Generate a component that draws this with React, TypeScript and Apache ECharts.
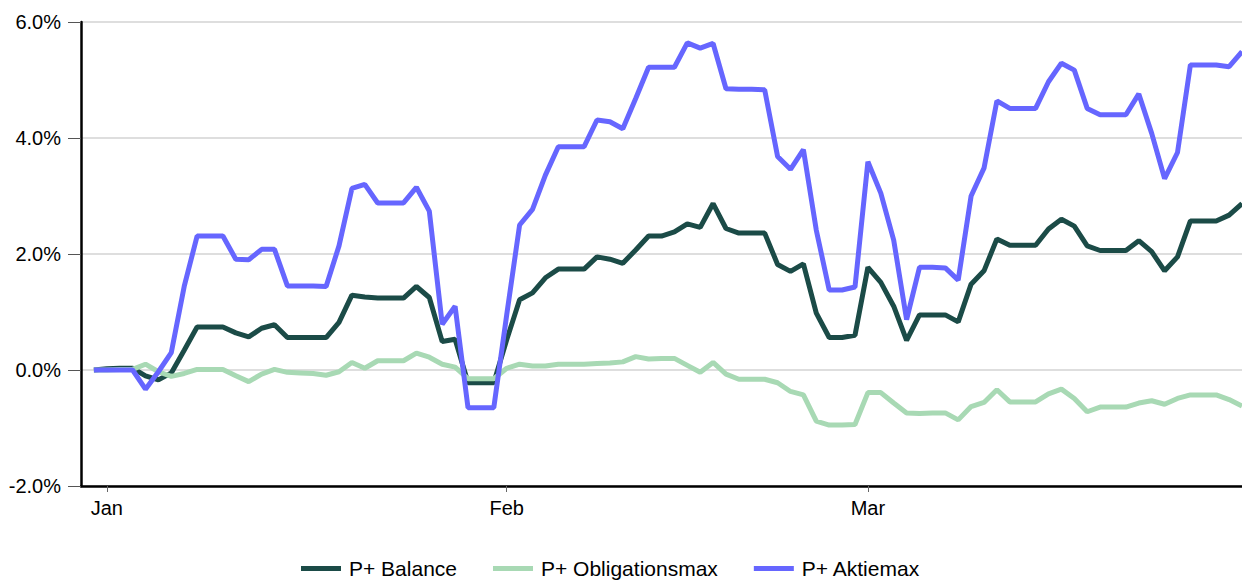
import React, { useEffect, useRef } from "react";
import * as echarts from "echarts";

// Daily values from 2020-12-31 to 2021-03-30 (percent)
const firstDate = "2020-12-31";
const axisStartDate = "2020-12-30";
const monthNames = ["Jan", "Feb", "Mar", "Apr", "May", "Jun", "Jul", "Aug", "Sep", "Oct", "Nov", "Dec"];
const seriesNames = ["P+ Balance", "P+ Obligationsmax", "P+ Aktiemax"];
const seriesColors = ["#1b4b47", "#a8d9b4", "#6666ff"];
const yTicks = [-2, 0, 2, 4, 6];

const balance = [
  0, 0.02, 0.03, 0.03, -0.1, -0.17, -0.05, 0.34, 0.74, 0.74, 0.74,
  0.64, 0.57, 0.72, 0.78, 0.56, 0.56, 0.56, 0.56, 0.82, 1.29, 1.26,
  1.24, 1.24, 1.24, 1.44, 1.25, 0.49, 0.53, -0.22, -0.22, -0.22,
  0.52, 1.21, 1.33, 1.59, 1.74, 1.74, 1.74, 1.95, 1.91, 1.84, 2.07,
  2.31, 2.31, 2.38, 2.52, 2.46, 2.87, 2.44, 2.36, 2.36, 2.36, 1.82,
  1.7, 1.83, 0.98, 0.56, 0.56, 0.6,
  1.77, 1.51, 1.1, 0.51, 0.95, 0.95, 0.95, 0.83, 1.48, 1.71, 2.26,
  2.15, 2.15, 2.15, 2.43, 2.6, 2.48, 2.14, 2.06, 2.06, 2.06, 2.23,
  2.04, 1.71, 1.95, 2.57, 2.57, 2.57, 2.67, 2.87,
];

const obligationsmax = [
  0, 0, 0.01, 0.01, 0.1, -0.03, -0.11, -0.06, 0.01, 0.01, 0.01,
  -0.1, -0.2, -0.07, 0.01, -0.04, -0.05, -0.06, -0.09, -0.03, 0.13, 0.03,
  0.16, 0.16, 0.16, 0.29, 0.22, 0.1, 0.05, -0.15, -0.15, -0.15,
  0.03, 0.1, 0.07, 0.07, 0.1, 0.1, 0.1, 0.11, 0.12, 0.14, 0.23,
  0.19, 0.2, 0.2, 0.08, -0.04, 0.13, -0.07, -0.16, -0.16, -0.16, -0.22,
  -0.37, -0.43, -0.88, -0.95, -0.95, -0.94,
  -0.39, -0.39, -0.57, -0.74, -0.75, -0.74, -0.74, -0.86, -0.63, -0.56, -0.34,
  -0.55, -0.55, -0.55, -0.41, -0.33, -0.49, -0.72, -0.64, -0.64, -0.64, -0.57,
  -0.53, -0.59, -0.49, -0.43, -0.43, -0.43, -0.51, -0.62,
];

const aktiemax = [
  0, 0, 0, 0, -0.33, -0.03, 0.3, 1.44, 2.31, 2.31, 2.31,
  1.91, 1.9, 2.08, 2.08, 1.45, 1.45, 1.45, 1.44, 2.14, 3.13, 3.2,
  2.88, 2.88, 2.88, 3.15, 2.74, 0.79, 1.1, -0.65, -0.65, -0.65,
  0.95, 2.5, 2.77, 3.36, 3.85, 3.85, 3.85, 4.31, 4.28, 4.16, 4.68,
  5.22, 5.22, 5.22, 5.64, 5.55, 5.63, 4.85, 4.84, 4.84, 4.83, 3.68,
  3.46, 3.8, 2.41, 1.38, 1.38, 1.43,
  3.59, 3.05, 2.24, 0.87, 1.77, 1.77, 1.76, 1.55, 3.0, 3.48, 4.64,
  4.51, 4.51, 4.51, 4.97, 5.29, 5.17, 4.51, 4.4, 4.4, 4.4, 4.76,
  4.08, 3.3, 3.75, 5.26, 5.26, 5.26, 5.23, 5.49,
];

const FONT = "'Liberation Sans', Arial, Helvetica, sans-serif";

function buildDates(): string[] {
  const out: string[] = [];
  const start = new Date(axisStartDate + "T00:00:00Z").getTime();
  const count = balance.length + 1;
  for (let i = 0; i < count; i++) {
    const d = new Date(start + i * 86400000);
    const s =
      d.getUTCFullYear() +
      "-" +
      String(d.getUTCMonth() + 1).padStart(2, "0") +
      "-" +
      String(d.getUTCDate()).padStart(2, "0");
    out.push(s);
  }
  return out;
}

export default function App() {
  const ref = useRef<HTMLDivElement>(null);

  useEffect(() => {
    if (!ref.current) return;
    const chart = echarts.init(ref.current, undefined, { renderer: "svg" });
    const dates = buildDates();
    const isMonthStart = (_i: number, v: string) => typeof v === "string" && v.endsWith("-01");
    const pad = (arr: number[]) => {
      const offset = dates.indexOf(firstDate);
      const res: (number | string)[] = [];
      for (let i = 0; i < offset; i++) res.push("-");
      return res.concat(arr);
    };
    const allData = [balance, obligationsmax, aktiemax];

    chart.setOption({
      animation: false,
      grid: { left: 81, right: 0, top: 22, bottom: 96, containLabel: false },
      legend: {
        data: seriesNames,
        left: 296,
        top: 553,
        padding: 5,
        icon: "rect",
        itemWidth: 40,
        itemHeight: 5,
        itemGap: 36,
        textStyle: {
          fontFamily: FONT,
          fontSize: 21,
          lineHeight: 21,
          color: "#000",
          padding: [0, 0, 0, 3],
        },
      },
      xAxis: {
        type: "category",
        data: dates,
        boundaryGap: false,
        axisLine: { show: true, onZero: false, lineStyle: { color: "#000", width: 2.5 } },
        axisTick: {
          show: true,
          interval: isMonthStart,
          length: 6,
          lineStyle: { color: "#666", width: 1 },
        },
        axisLabel: {
          interval: isMonthStart,
          margin: 12,
          fontFamily: FONT,
          fontSize: 20,
          color: "#000",
          formatter: (v: string) => monthNames[parseInt(v.slice(5, 7), 10) - 1],
        },
        splitLine: { show: false },
      },
      yAxis: {
        type: "value",
        min: yTicks[0],
        max: yTicks[yTicks.length - 1],
        interval: 2,
        axisLine: { show: true, lineStyle: { color: "#000", width: 2.5 } },
        axisTick: { show: true, length: 13, lineStyle: { color: "#555", width: 1 } },
        axisLabel: {
          margin: 20,
          fontFamily: FONT,
          fontSize: 20,
          color: "#000",
          formatter: (v: number) => v.toFixed(1) + "%",
        },
        splitLine: { show: true, lineStyle: { color: "#dedede", width: 2 } },
      },
      series: seriesNames.map((name, i) => ({
        name,
        type: "line",
        data: pad(allData[i]),
        showSymbol: false,
        symbol: "none",
        color: seriesColors[i],
        lineStyle: { color: seriesColors[i], width: 5 },
      })),
    });

    return () => chart.dispose();
  }, []);

  return (
    <div
      ref={ref}
      style={{ position: "fixed", left: 0, top: 0, width: 1242, height: 582, background: "#fff" }}
    />
  );
}
